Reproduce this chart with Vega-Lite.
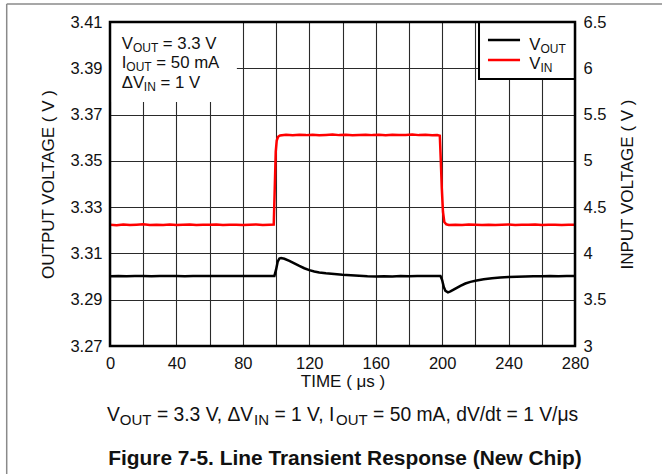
{
  "$schema": "https://vega.github.io/schema/vega-lite/v6.json",
  "width": 465,
  "height": 324,
  "autosize": {"type": "none"},
  "padding": {"left": 110, "top": 22, "right": 88, "bottom": 128},
  "background": "white",
  "config": {
    "view": {"stroke": null},
    "font": "Liberation Sans",
    "text": {"font": "Liberation Sans", "color": "#111"},
    "axis": {
      "labelFont": "Liberation Sans",
      "titleFont": "Liberation Sans",
      "labelFontSize": 16.5,
      "titleFontSize": 17,
      "titleFontWeight": "normal",
      "labelColor": "#111",
      "titleColor": "#111",
      "tickSize": 0,
      "domain": false,
      "gridColor": "#2a2a2a",
      "gridWidth": 1.1,
      "gridOpacity": 1,
      "labelFlush": false,
      "labelOverlap": false
    }
  },
  "datasets": {
    "vout": [
      {"t": 0, "v": 3.3001}, {"t": 5, "v": 3.3002}, {"t": 10, "v": 3.3001}, {"t": 15, "v": 3.3003},
      {"t": 20, "v": 3.3002}, {"t": 25, "v": 3.3001}, {"t": 30, "v": 3.3003}, {"t": 35, "v": 3.3002},
      {"t": 40, "v": 3.3002}, {"t": 45, "v": 3.3001}, {"t": 50, "v": 3.3003}, {"t": 55, "v": 3.3002},
      {"t": 60, "v": 3.3002}, {"t": 65, "v": 3.3003}, {"t": 70, "v": 3.3002}, {"t": 75, "v": 3.3003},
      {"t": 80, "v": 3.3002}, {"t": 85, "v": 3.3003}, {"t": 90, "v": 3.3002}, {"t": 95, "v": 3.3003},
      {"t": 99, "v": 3.3003}, {"t": 100, "v": 3.303}, {"t": 101, "v": 3.3065}, {"t": 102, "v": 3.3078},
      {"t": 103, "v": 3.308}, {"t": 105, "v": 3.3077}, {"t": 108, "v": 3.3068}, {"t": 111, "v": 3.3057},
      {"t": 114, "v": 3.3046}, {"t": 117, "v": 3.3036}, {"t": 120, "v": 3.3028}, {"t": 123, "v": 3.3022},
      {"t": 126, "v": 3.3018}, {"t": 130, "v": 3.3014}, {"t": 135, "v": 3.3011}, {"t": 140, "v": 3.3008},
      {"t": 145, "v": 3.3006}, {"t": 150, "v": 3.3004}, {"t": 155, "v": 3.3001}, {"t": 160, "v": 3.3},
      {"t": 165, "v": 3.3001}, {"t": 170, "v": 3.3}, {"t": 175, "v": 3.3002}, {"t": 180, "v": 3.3001},
      {"t": 185, "v": 3.3002}, {"t": 190, "v": 3.3002}, {"t": 195, "v": 3.3002}, {"t": 199, "v": 3.3002},
      {"t": 200, "v": 3.2985}, {"t": 201, "v": 3.2955}, {"t": 202, "v": 3.2938}, {"t": 203.5, "v": 3.2932},
      {"t": 205, "v": 3.2936}, {"t": 208, "v": 3.2948}, {"t": 211, "v": 3.296}, {"t": 214, "v": 3.297},
      {"t": 217, "v": 3.2977}, {"t": 220, "v": 3.2982}, {"t": 225, "v": 3.2988}, {"t": 230, "v": 3.2993},
      {"t": 235, "v": 3.2996}, {"t": 240, "v": 3.2998}, {"t": 245, "v": 3.2999}, {"t": 250, "v": 3.3},
      {"t": 255, "v": 3.3001}, {"t": 260, "v": 3.3001}, {"t": 265, "v": 3.3002}, {"t": 270, "v": 3.3001},
      {"t": 275, "v": 3.3002}, {"t": 280, "v": 3.3002}
    ],
    "vin": [
      {"t": 0, "vin": 4.31}, {"t": 4, "vin": 4.305}, {"t": 8, "vin": 4.312}, {"t": 12, "vin": 4.307},
      {"t": 16, "vin": 4.31}, {"t": 20, "vin": 4.314}, {"t": 24, "vin": 4.306}, {"t": 28, "vin": 4.31},
      {"t": 32, "vin": 4.308}, {"t": 36, "vin": 4.313}, {"t": 40, "vin": 4.307}, {"t": 44, "vin": 4.31},
      {"t": 48, "vin": 4.312}, {"t": 52, "vin": 4.306}, {"t": 56, "vin": 4.31}, {"t": 60, "vin": 4.309},
      {"t": 64, "vin": 4.313}, {"t": 68, "vin": 4.307}, {"t": 72, "vin": 4.31}, {"t": 76, "vin": 4.311},
      {"t": 80, "vin": 4.306}, {"t": 84, "vin": 4.31}, {"t": 88, "vin": 4.313}, {"t": 92, "vin": 4.308},
      {"t": 96, "vin": 4.31}, {"t": 98.6, "vin": 4.312}, {"t": 99.2, "vin": 4.7}, {"t": 99.8, "vin": 5.1},
      {"t": 100.4, "vin": 5.22}, {"t": 101.2, "vin": 5.26}, {"t": 102.4, "vin": 5.275}, {"t": 106, "vin": 5.282},
      {"t": 110, "vin": 5.276}, {"t": 114, "vin": 5.281}, {"t": 118, "vin": 5.278}, {"t": 122, "vin": 5.283},
      {"t": 126, "vin": 5.277}, {"t": 130, "vin": 5.28}, {"t": 134, "vin": 5.284}, {"t": 138, "vin": 5.278},
      {"t": 142, "vin": 5.281}, {"t": 146, "vin": 5.276}, {"t": 150, "vin": 5.28}, {"t": 154, "vin": 5.283},
      {"t": 158, "vin": 5.278}, {"t": 162, "vin": 5.281}, {"t": 166, "vin": 5.277}, {"t": 170, "vin": 5.282},
      {"t": 174, "vin": 5.279}, {"t": 178, "vin": 5.28}, {"t": 182, "vin": 5.284}, {"t": 186, "vin": 5.278},
      {"t": 190, "vin": 5.281}, {"t": 194, "vin": 5.277}, {"t": 197, "vin": 5.28}, {"t": 198.6, "vin": 5.272},
      {"t": 199.2, "vin": 5.0}, {"t": 199.8, "vin": 4.7}, {"t": 200.5, "vin": 4.45}, {"t": 201.3, "vin": 4.34},
      {"t": 202.5, "vin": 4.315}, {"t": 204, "vin": 4.308}, {"t": 208, "vin": 4.31}, {"t": 212, "vin": 4.306},
      {"t": 216, "vin": 4.312}, {"t": 220, "vin": 4.309}, {"t": 224, "vin": 4.307}, {"t": 228, "vin": 4.311},
      {"t": 232, "vin": 4.306}, {"t": 236, "vin": 4.31}, {"t": 240, "vin": 4.313}, {"t": 244, "vin": 4.307},
      {"t": 248, "vin": 4.31}, {"t": 252, "vin": 4.309}, {"t": 256, "vin": 4.312}, {"t": 260, "vin": 4.306},
      {"t": 264, "vin": 4.31}, {"t": 268, "vin": 4.311}, {"t": 272, "vin": 4.307}, {"t": 276, "vin": 4.31},
      {"t": 280, "vin": 4.309}
    ],
    "annoBox": [{"t": 0, "t2": 76.4, "v": 3.3754, "v2": 3.41}],
    "legendBox": [{"t": 222.2, "t2": 280, "v": 3.3854, "v2": 3.41}],
    "frame": [{"t": 0, "t2": 280, "v": 3.27, "v2": 3.41}],
    "legendLines": [
      {"t": 227.6, "t2": 246.9, "v": 3.4022, "s": "VOUT"},
      {"t": 227.6, "t2": 246.9, "v": 3.3936, "s": "VIN"}
    ],
    "textMain": [
      {"t": 7.05, "v": 3.3982, "s": "V"}, {"t": 31.83, "v": 3.3982, "s": "= 3.3 V"},
      {"t": 7.05, "v": 3.39, "s": "I"}, {"t": 27.91, "v": 3.39, "s": "= 50 mA"},
      {"t": 7.05, "v": 3.3816, "s": "ΔV"}, {"t": 30.39, "v": 3.3816, "s": "= 1 V"},
      {"t": 252.5, "v": 3.3979, "s": "V"}, {"t": 252.5, "v": 3.3897, "s": "V"}
    ],
    "textSub": [
      {"t": 13.79, "v": 3.3982, "s": "OUT"}, {"t": 9.86, "v": 3.39, "s": "OUT"},
      {"t": 20.35, "v": 3.3816, "s": "IN"}, {"t": 259.2, "v": 3.3979, "s": "OUT"},
      {"t": 259.2, "v": 3.3897, "s": "IN"}
    ],
    "captionMain": [
      {"t": -1.81, "v": 3.2376, "s": "V"},
      {"t": 28.24, "v": 3.2376, "s": "= 3.3 V, ΔV"},
      {"t": 98.99, "v": 3.2376, "s": "= 1 V, I"},
      {"t": 158.44, "v": 3.2376, "s": "= 50 mA, dV/dt = 1 V/μs"}
    ],
    "captionSub": [
      {"t": 5.94, "v": 3.2376, "s": "OUT"},
      {"t": 86.72, "v": 3.2376, "s": "IN"},
      {"t": 136.14, "v": 3.2376, "s": "OUT"}
    ],
    "figTitle": [{"t": 141.5, "v": 3.2186, "s": "Figure 7-5. Line Transient Response (New Chip)"}],
    "pageBorder": [
      {"t": -62.2, "t2": 332.4, "v": 3.41778, "v2": 3.41778},
      {"t": -62.2, "t2": -62.2, "v": 3.41778, "v2": 3.2}
    ]
  },
  "layer": [
    {
      "data": {"name": "vin"},
      "mark": {"type": "line", "color": "#ff0000", "strokeWidth": 2.5},
      "encoding": {
        "x": {
          "field": "t", "type": "quantitative",
          "scale": {"domain": [0, 280], "nice": false, "zero": false},
          "axis": {
            "orient": "bottom",
            "title": null,
            "values": [0, 20, 40, 60, 80, 100, 120, 140, 160, 180, 200, 220, 240, 260, 280],
            "labels": false,
            "ticks": false,
            "grid": true
          }
        },
        "y": {
          "field": "vin", "type": "quantitative",
          "scale": {"domain": [3, 6.5], "nice": false, "zero": false},
          "axis": {
            "orient": "right",
            "title": "INPUT VOLTAGE ( V )",
            "titleAngle": 270,
            "titleBaseline": "top",
            "values": [3, 3.5, 4, 4.5, 5, 5.5, 6, 6.5],
            "format": ".1~f",
            "grid": false,
            "labelPadding": 8,
            "titlePadding": 14
          }
        }
      }
    },
    {
      "layer": [
        {
          "data": {"name": "vout"},
          "mark": {"type": "line", "color": "#000000", "strokeWidth": 2.5},
          "encoding": {
            "x": {
              "field": "t", "type": "quantitative",
              "scale": {"domain": [0, 280], "nice": false, "zero": false},
              "axis": {
                "orient": "bottom",
                "title": "TIME ( μs )",
                "values": [0, 40, 80, 120, 160, 200, 240, 280],
                "grid": false,
                "labelPadding": 9,
                "titlePadding": 2
              }
            },
            "y": {
              "field": "v", "type": "quantitative",
              "scale": {"domain": [3.27, 3.41], "nice": false, "zero": false},
              "axis": {
                "orient": "left",
                "title": "OUTPUT VOLTAGE ( V )",
                "values": [3.27, 3.29, 3.31, 3.33, 3.35, 3.37, 3.39, 3.41],
                "format": ".2f",
                "grid": true,
                "labelPadding": 8,
                "titlePadding": 12
              }
            }
          }
        },
        {
          "data": {"name": "annoBox"},
          "mark": {"type": "rect", "fill": "white", "strokeWidth": 0},
          "encoding": {
            "x": {"field": "t", "type": "quantitative"},
            "x2": {"field": "t2"},
            "y": {"field": "v", "type": "quantitative"},
            "y2": {"field": "v2"}
          }
        },
        {
          "data": {"name": "legendBox"},
          "mark": {"type": "rect", "fill": "white", "stroke": "#000000", "strokeWidth": 2},
          "encoding": {
            "x": {"field": "t", "type": "quantitative"},
            "x2": {"field": "t2"},
            "y": {"field": "v", "type": "quantitative"},
            "y2": {"field": "v2"}
          }
        },
        {
          "data": {"name": "legendLines"},
          "mark": {"type": "rule", "strokeWidth": 2.5},
          "encoding": {
            "x": {"field": "t", "type": "quantitative"},
            "x2": {"field": "t2"},
            "y": {"field": "v", "type": "quantitative"},
            "color": {
              "field": "s", "type": "nominal",
              "scale": {"domain": ["VOUT", "VIN"], "range": ["#000000", "#ff0000"]},
              "legend": null
            }
          }
        },
        {
          "data": {"name": "textMain"},
          "mark": {"type": "text", "fontSize": 16.8, "align": "left", "baseline": "alphabetic"},
          "encoding": {
            "x": {"field": "t", "type": "quantitative"},
            "y": {"field": "v", "type": "quantitative"},
            "text": {"field": "s"}
          }
        },
        {
          "data": {"name": "textSub"},
          "mark": {"type": "text", "fontSize": 12, "align": "left", "baseline": "alphabetic", "dy": 3},
          "encoding": {
            "x": {"field": "t", "type": "quantitative"},
            "y": {"field": "v", "type": "quantitative"},
            "text": {"field": "s"}
          }
        },
        {
          "data": {"name": "captionMain"},
          "mark": {"type": "text", "fontSize": 19.3, "align": "left", "baseline": "alphabetic"},
          "encoding": {
            "x": {"field": "t", "type": "quantitative"},
            "y": {"field": "v", "type": "quantitative"},
            "text": {"field": "s"}
          }
        },
        {
          "data": {"name": "captionSub"},
          "mark": {"type": "text", "fontSize": 15, "align": "left", "baseline": "alphabetic", "dy": 4},
          "encoding": {
            "x": {"field": "t", "type": "quantitative"},
            "y": {"field": "v", "type": "quantitative"},
            "text": {"field": "s"}
          }
        },
        {
          "data": {"name": "figTitle"},
          "mark": {"type": "text", "fontSize": 20.9, "fontWeight": "bold", "align": "center", "baseline": "alphabetic"},
          "encoding": {
            "x": {"field": "t", "type": "quantitative"},
            "y": {"field": "v", "type": "quantitative"},
            "text": {"field": "s"}
          }
        },
        {
          "data": {"name": "frame"},
          "mark": {"type": "rect", "filled": false, "stroke": "#000000", "strokeWidth": 2.5},
          "encoding": {
            "x": {"field": "t", "type": "quantitative"},
            "x2": {"field": "t2"},
            "y": {"field": "v", "type": "quantitative"},
            "y2": {"field": "v2"}
          }
        },
        {
          "data": {"name": "pageBorder"},
          "mark": {"type": "rule", "color": "#8a8a8a", "strokeWidth": 1.5},
          "encoding": {
            "x": {"field": "t", "type": "quantitative"},
            "x2": {"field": "t2"},
            "y": {"field": "v", "type": "quantitative"},
            "y2": {"field": "v2"}
          }
        }
      ]
    }
  ],
  "resolve": {"scale": {"y": "independent"}, "axis": {"y": "independent", "x": "independent"}}
}
